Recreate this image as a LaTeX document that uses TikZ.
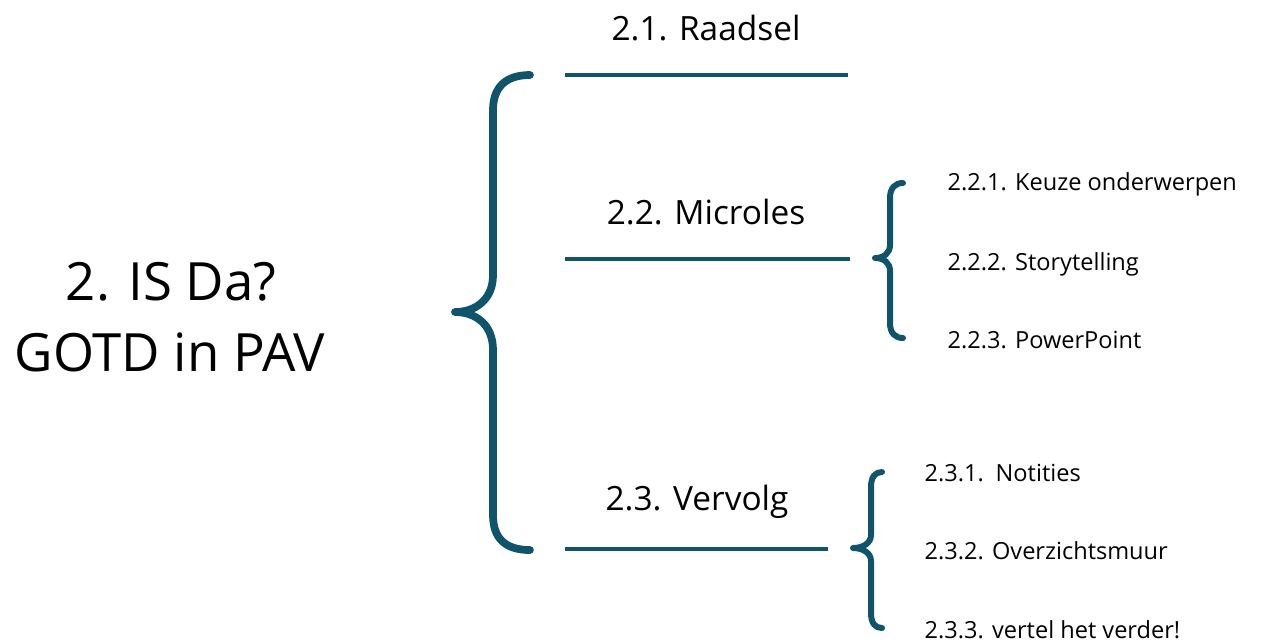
\documentclass[tikz,border=0pt]{standalone}
\usepackage{fontspec}
\setmainfont{Open Sans}
\definecolor{teal}{HTML}{10546C}
\begin{document}
\begin{tikzpicture}[x=0.01cm,y=-0.01cm,
  bracestyle/.style={draw=teal,line width=2.2pt,line cap=round,line join=round},
  smallbrace/.style={draw=teal,line width=1.7pt,line cap=round,line join=round},
  underline/.style={draw=teal,line width=1.4pt},
  title/.style={font=\fontsize{15}{18}\selectfont,align=center,inner sep=0pt},
  seclabel/.style={font=\fontsize{9.5}{11}\selectfont,inner sep=0pt},
  sublabel/.style={font=\fontsize{6.7}{8}\selectfont,inner sep=0pt,anchor=west}]
\useasboundingbox (0,0) rectangle (1261,641);
% main title
\node[title] (t1) at (171,282) {2. IS Da?};
\node[title] (t2) at (170,352) {GOTD in PAV};
% big brace
\path[bracestyle] (530,75) .. controls (505,75) and (493,88) .. (493,110) -- (493,275)
  .. controls (493,300) and (475,312) .. (455,312)
  .. controls (475,312) and (493,324) .. (493,350) -- (493,515)
  .. controls (493,538) and (505,550) .. (530,550);
% section labels and lines
\node[seclabel] (s1) at (706,28) {2.1. Raadsel};
\coordinate (l1a) at (565,75); \coordinate (l1b) at (848,75);
\draw[underline] (l1a) -- (l1b);
\node[seclabel] (s2) at (706,212) {2.2. Microles};
\coordinate (l2a) at (565,259); \coordinate (l2b) at (850,259);
\draw[underline] (l2a) -- (l2b);
\node[seclabel] (s3) at (697,502) {2.3. Vervolg};
\coordinate (l3a) at (565,549); \coordinate (l3b) at (828,549);
\draw[underline] (l3a) -- (l3b);
% brace 2.2
\path[smallbrace] (903,183) .. controls (895,183) and (890,188) .. (890,198) -- (890,245)
  .. controls (890,253) and (884,258) .. (875,258)
  .. controls (884,258) and (890,263) .. (890,271) -- (890,323)
  .. controls (890,333) and (895,338) .. (903,338);
\node[sublabel] (a1) at (947,184) {2.2.1. Keuze onderwerpen};
\node[sublabel] (a2) at (947,264) {2.2.2. Storytelling};
\node[sublabel] (a3) at (947,340) {2.2.3. PowerPoint};
% brace 2.3
\path[smallbrace] (882,472) .. controls (875,472) and (871,477) .. (871,487) -- (871,535)
  .. controls (871,543) and (863,548) .. (853,548)
  .. controls (863,548) and (871,553) .. (871,561) -- (871,613)
  .. controls (871,623) and (875,628) .. (882,628);
\node[sublabel] (b1) at (924,473) {2.3.1.\enspace Notities};
\node[sublabel] (b2) at (924,551) {2.3.2. Overzichtsmuur};
\node[sublabel] (b3) at (924,630) {2.3.3. vertel het verder!};
\end{tikzpicture}
\end{document}
